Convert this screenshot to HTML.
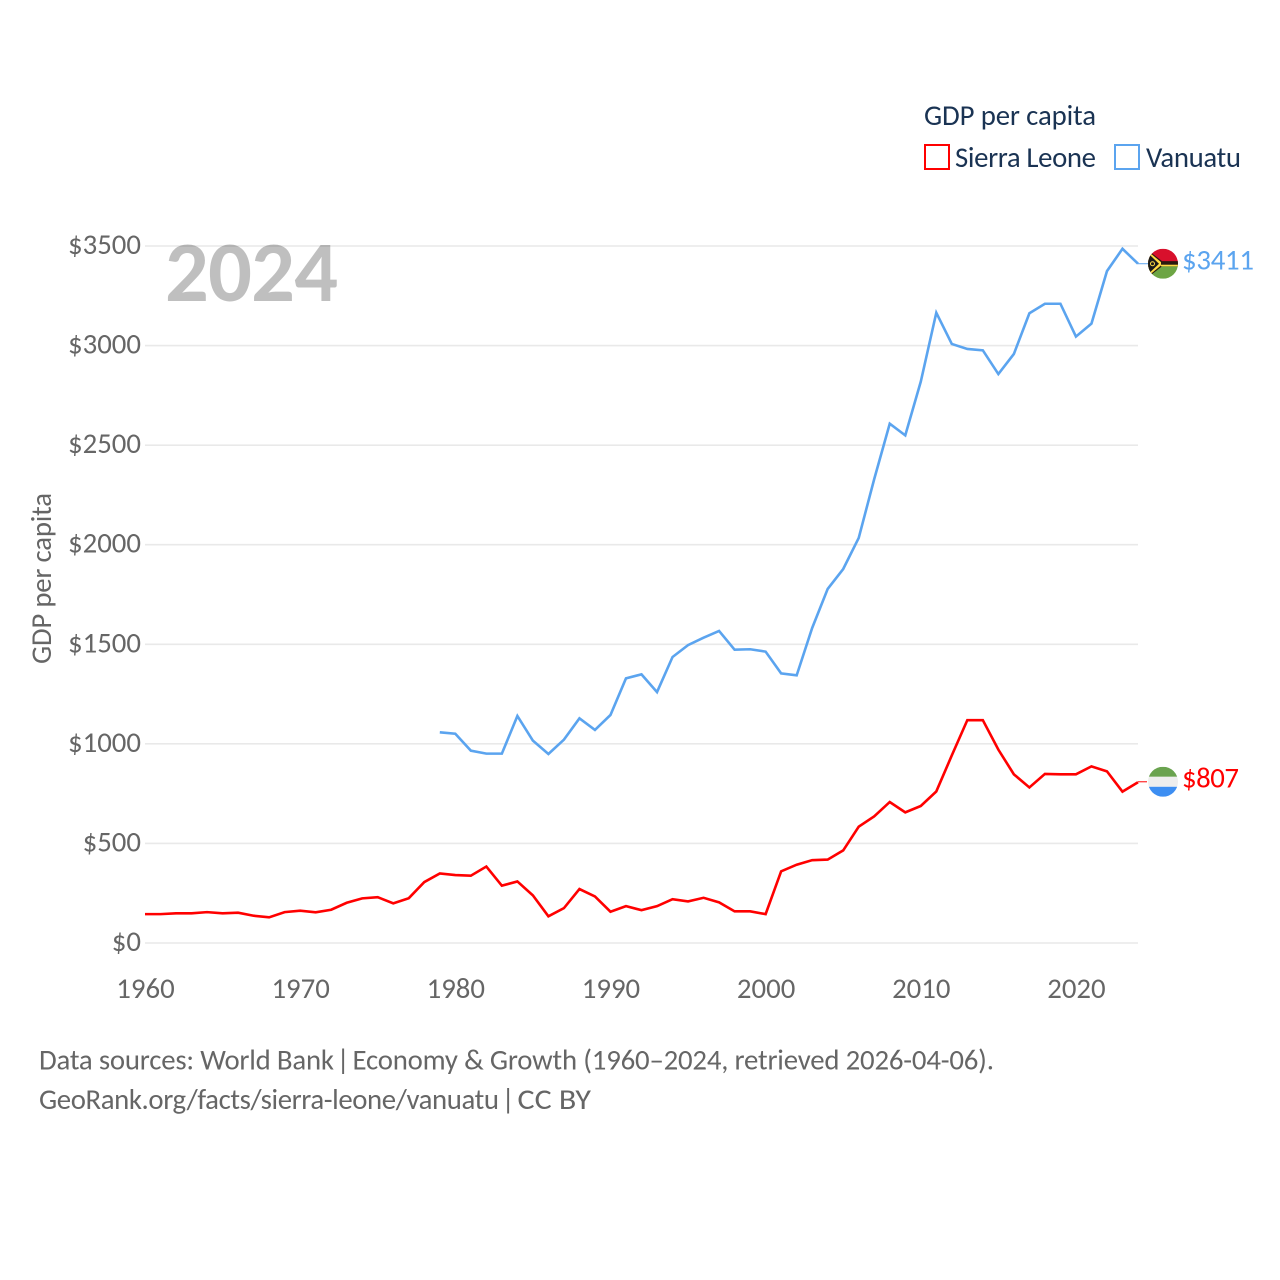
<!DOCTYPE html>
<html lang="en">
<head>
<meta charset="utf-8">
<title>GDP per capita: Sierra Leone vs Vanuatu</title>
<style>
html,body{margin:0;padding:0;background:#fff;width:1280px;height:1280px;overflow:hidden}
svg{display:block}
text{font-family:"Carlito","Lato","Liberation Sans",sans-serif}
</style>
</head>
<body>
<svg id="chart" xmlns="http://www.w3.org/2000/svg" width="1280" height="1280" viewBox="0 0 1280 1280">
  <rect x="0" y="0" width="1280" height="1280" fill="#ffffff"/>
  <g id="grid"></g>
  <g id="yticks"></g>
  <g id="xticks"></g>
  <text x="165" y="301" font-size="86.4" font-weight="700" fill="#000000" fill-opacity="0.25" textLength="173" lengthAdjust="spacing">2024</text>
  <text transform="translate(51,664) rotate(-90)" font-size="28.8" fill="#666666" textLength="171" lengthAdjust="spacing">GDP per capita</text>
  <g id="series"></g>
  <g id="end-markers"></g>
  <g>
    <text x="924" y="125" font-size="28.8" fill="#1a3353" textLength="172" lengthAdjust="spacing">GDP per capita</text>
    <rect x="925" y="145" width="24" height="24" fill="none" stroke="#ff0000" stroke-width="2"/>
    <text x="955" y="167" font-size="28.8" fill="#1a3353" textLength="141" lengthAdjust="spacing">Sierra Leone</text>
    <rect x="1115" y="145" width="24" height="24" fill="none" stroke="#5ba4ef" stroke-width="2"/>
    <text x="1146" y="167" font-size="28.8" fill="#1a3353" textLength="95" lengthAdjust="spacing">Vanuatu</text>
  </g>
  <text y="1069.5" font-size="28.8" fill="#666666"><tspan x="39" textLength="295" lengthAdjust="spacing">Data sources: World Bank</tspan><tspan x="330"> | </tspan><tspan x="352.5" textLength="641.5" lengthAdjust="spacing">Economy &amp; Growth (1960–2024, retrieved 2026-04-06).</tspan></text>
  <text y="1109" font-size="28.8" fill="#666666"><tspan x="39" textLength="460" lengthAdjust="spacing">GeoRank.org/facts/sierra-leone/vanuatu</tspan><tspan x="495"> | </tspan><tspan x="517.5" textLength="73.5" lengthAdjust="spacingAndGlyphs">CC BY</tspan></text>
</svg>
<script>
const years = [1960,1961,1962,1963,1964,1965,1966,1967,1968,1969,1970,1971,1972,1973,1974,1975,1976,1977,1978,1979,1980,1981,1982,1983,1984,1985,1986,1987,1988,1989,1990,1991,1992,1993,1994,1995,1996,1997,1998,1999,2000,2001,2002,2003,2004,2005,2006,2007,2008,2009,2010,2011,2012,2013,2014,2015,2016,2017,2018,2019,2020,2021,2022,2023,2024];
const sierraLeone = [145,145,149,149,155,149,152,137,129,155,162,154,167,202,224,230,199,225,306,349,341,338,384,288,309,239,134,175,271,234,157,185,165,185,220,209,227,204,159,159,145,360,393,416,419,465,584,636,708,656,688,761,942,1119,1119,971,847,781,849,847,847,887,862,760,807];
const vanuatu = [null,null,null,null,null,null,null,null,null,null,null,null,null,null,null,null,null,null,null,1058,1051,966,951,951,1140,1016,949,1021,1128,1070,1145,1329,1349,1260,1436,1496,1533,1567,1473,1475,1463,1354,1344,1582,1778,1878,2034,2330,2608,2549,2819,3165,3008,2983,2976,2857,2958,3162,3210,3210,3045,3110,3374,3486,3411];
const yTickValues = [0,500,1000,1500,2000,2500,3000,3500];
const xTickValues = [1960,1970,1980,1990,2000,2010,2020];

const NS = 'http://www.w3.org/2000/svg';
const PLOT = {left:145, right:1138, zero:943, top:246};
function xScale(year){ return PLOT.left + (year - 1960) * (PLOT.right - PLOT.left) / (2024 - 1960); }
function yScale(value){ return PLOT.zero - value * (PLOT.zero - PLOT.top) / 3500; }
function make(tag, attrs, parent){
  const el = document.createElementNS(NS, tag);
  for (const k in attrs) el.setAttribute(k, attrs[k]);
  parent.appendChild(el);
  return el;
}
const gridGroup = document.getElementById('grid');
const yTickGroup = document.getElementById('yticks');
const xTickGroup = document.getElementById('xticks');
const seriesGroup = document.getElementById('series');
const markerGroup = document.getElementById('end-markers');

yTickValues.forEach(function(v){
  const line = make('line', {x1:PLOT.left, x2:PLOT.right, y1:yScale(v), y2:yScale(v), stroke:'#e9e9e9', 'stroke-width':1.6}, gridGroup);
  
  
  const label = make('text', {x:141, y:yScale(v)+8, 'text-anchor':'end', 'font-size':28.8, fill:'#666666'}, yTickGroup);
  
  
  label.textContent = '$' + v;
});
xTickValues.forEach(function(y){
  const label = make('text', {x:xScale(y)+0.5, y:998, 'text-anchor':'middle', 'font-size':28.8, fill:'#666666'}, xTickGroup);
  
  
  label.textContent = String(y);
});

function linePath(values){
  let d = '';
  values.forEach(function(v, i){
    if (v === null) return;
    d += (d ? 'L' : 'M') + xScale(years[i]).toFixed(2) + ' ' + yScale(v).toFixed(2);
  });
  return d;
}
const sierraLine = make('path', {d:linePath(sierraLeone), fill:'none', stroke:'#ff0000', 'stroke-width':2.6, 'stroke-linejoin':'miter'}, seriesGroup);


const vanuatuLine = make('path', {d:linePath(vanuatu), fill:'none', stroke:'#5ba4ef', 'stroke-width':2.6, 'stroke-linejoin':'miter'}, seriesGroup);



// End-of-line leader, flag and value label
const sierraLast = sierraLeone[sierraLeone.length - 1];
const vanuatuLast = vanuatu[vanuatu.length - 1];
const sy = yScale(sierraLast);
const vy = yScale(vanuatuLast);

const sLeader = make('line', {x1:PLOT.right, x2:1147, y1:sy-0.5, y2:sy-0.5, stroke:'#ff0000', 'stroke-width':1}, markerGroup);


const vLeader = make('line', {x1:PLOT.right, x2:1149, y1:vy, y2:vy, stroke:'#5ba4ef', 'stroke-width':1}, markerGroup);



const defs = make('defs', {}, markerGroup);
const clip = make('clipPath', {id:'flag-clip'}, defs);
make('circle', {cx:0, cy:0, r:15}, clip);

const slFlag = make('g', {transform:'translate(1163,' + (sy-0.5) + ')', 'clip-path':'url(#flag-clip)'}, markerGroup);


make('rect', {x:-15, y:-15, width:30, height:10, fill:'#6aa34f'}, slFlag);
make('rect', {x:-15, y:-5, width:30, height:10, fill:'#eeeeee'}, slFlag);
make('rect', {x:-15, y:5, width:30, height:10, fill:'#3d8ef2'}, slFlag);

const vuFlag = make('g', {transform:'translate(1163,' + vy + ')', 'clip-path':'url(#flag-clip)'}, markerGroup);


make('rect', {x:-15, y:-15, width:30, height:15, fill:'#d8102c'}, vuFlag);
make('rect', {x:-15, y:0, width:30, height:15, fill:'#6da544'}, vuFlag);
make('polygon', {points:'-15,-13.5 -1,-2.6 15,-2.6 15,2.6 -1,2.6 -15,13.5', fill:'#2a1a10'}, vuFlag);
make('polygon', {points:'-15,-12.5 -2,-1.6 -2,1.6 -15,12.5', fill:'#ffda44'}, vuFlag);
make('rect', {x:-2, y:1, width:17, height:1.6, fill:'#ffda44'}, vuFlag);
make('polygon', {points:'-15,-10.5 -4,0 -15,10.5', fill:'#1a1a1a'}, vuFlag);
make('circle', {cx:-10.5, cy:0, r:2, fill:'none', stroke:'#ffda44', 'stroke-width':1}, vuFlag);

const sLabel = make('text', {x:1182, y:sy+5, 'font-size':28.8, fill:'#ff0000', textLength:57, lengthAdjust:'spacing'}, markerGroup);


sLabel.textContent = '$' + sierraLast;
const vLabel = make('text', {x:1182, y:vy+6, 'font-size':28.8, fill:'#5ba4ef', textLength:72, lengthAdjust:'spacing'}, markerGroup);


vLabel.textContent = '$' + vanuatuLast;
</script>
</body>
</html>
